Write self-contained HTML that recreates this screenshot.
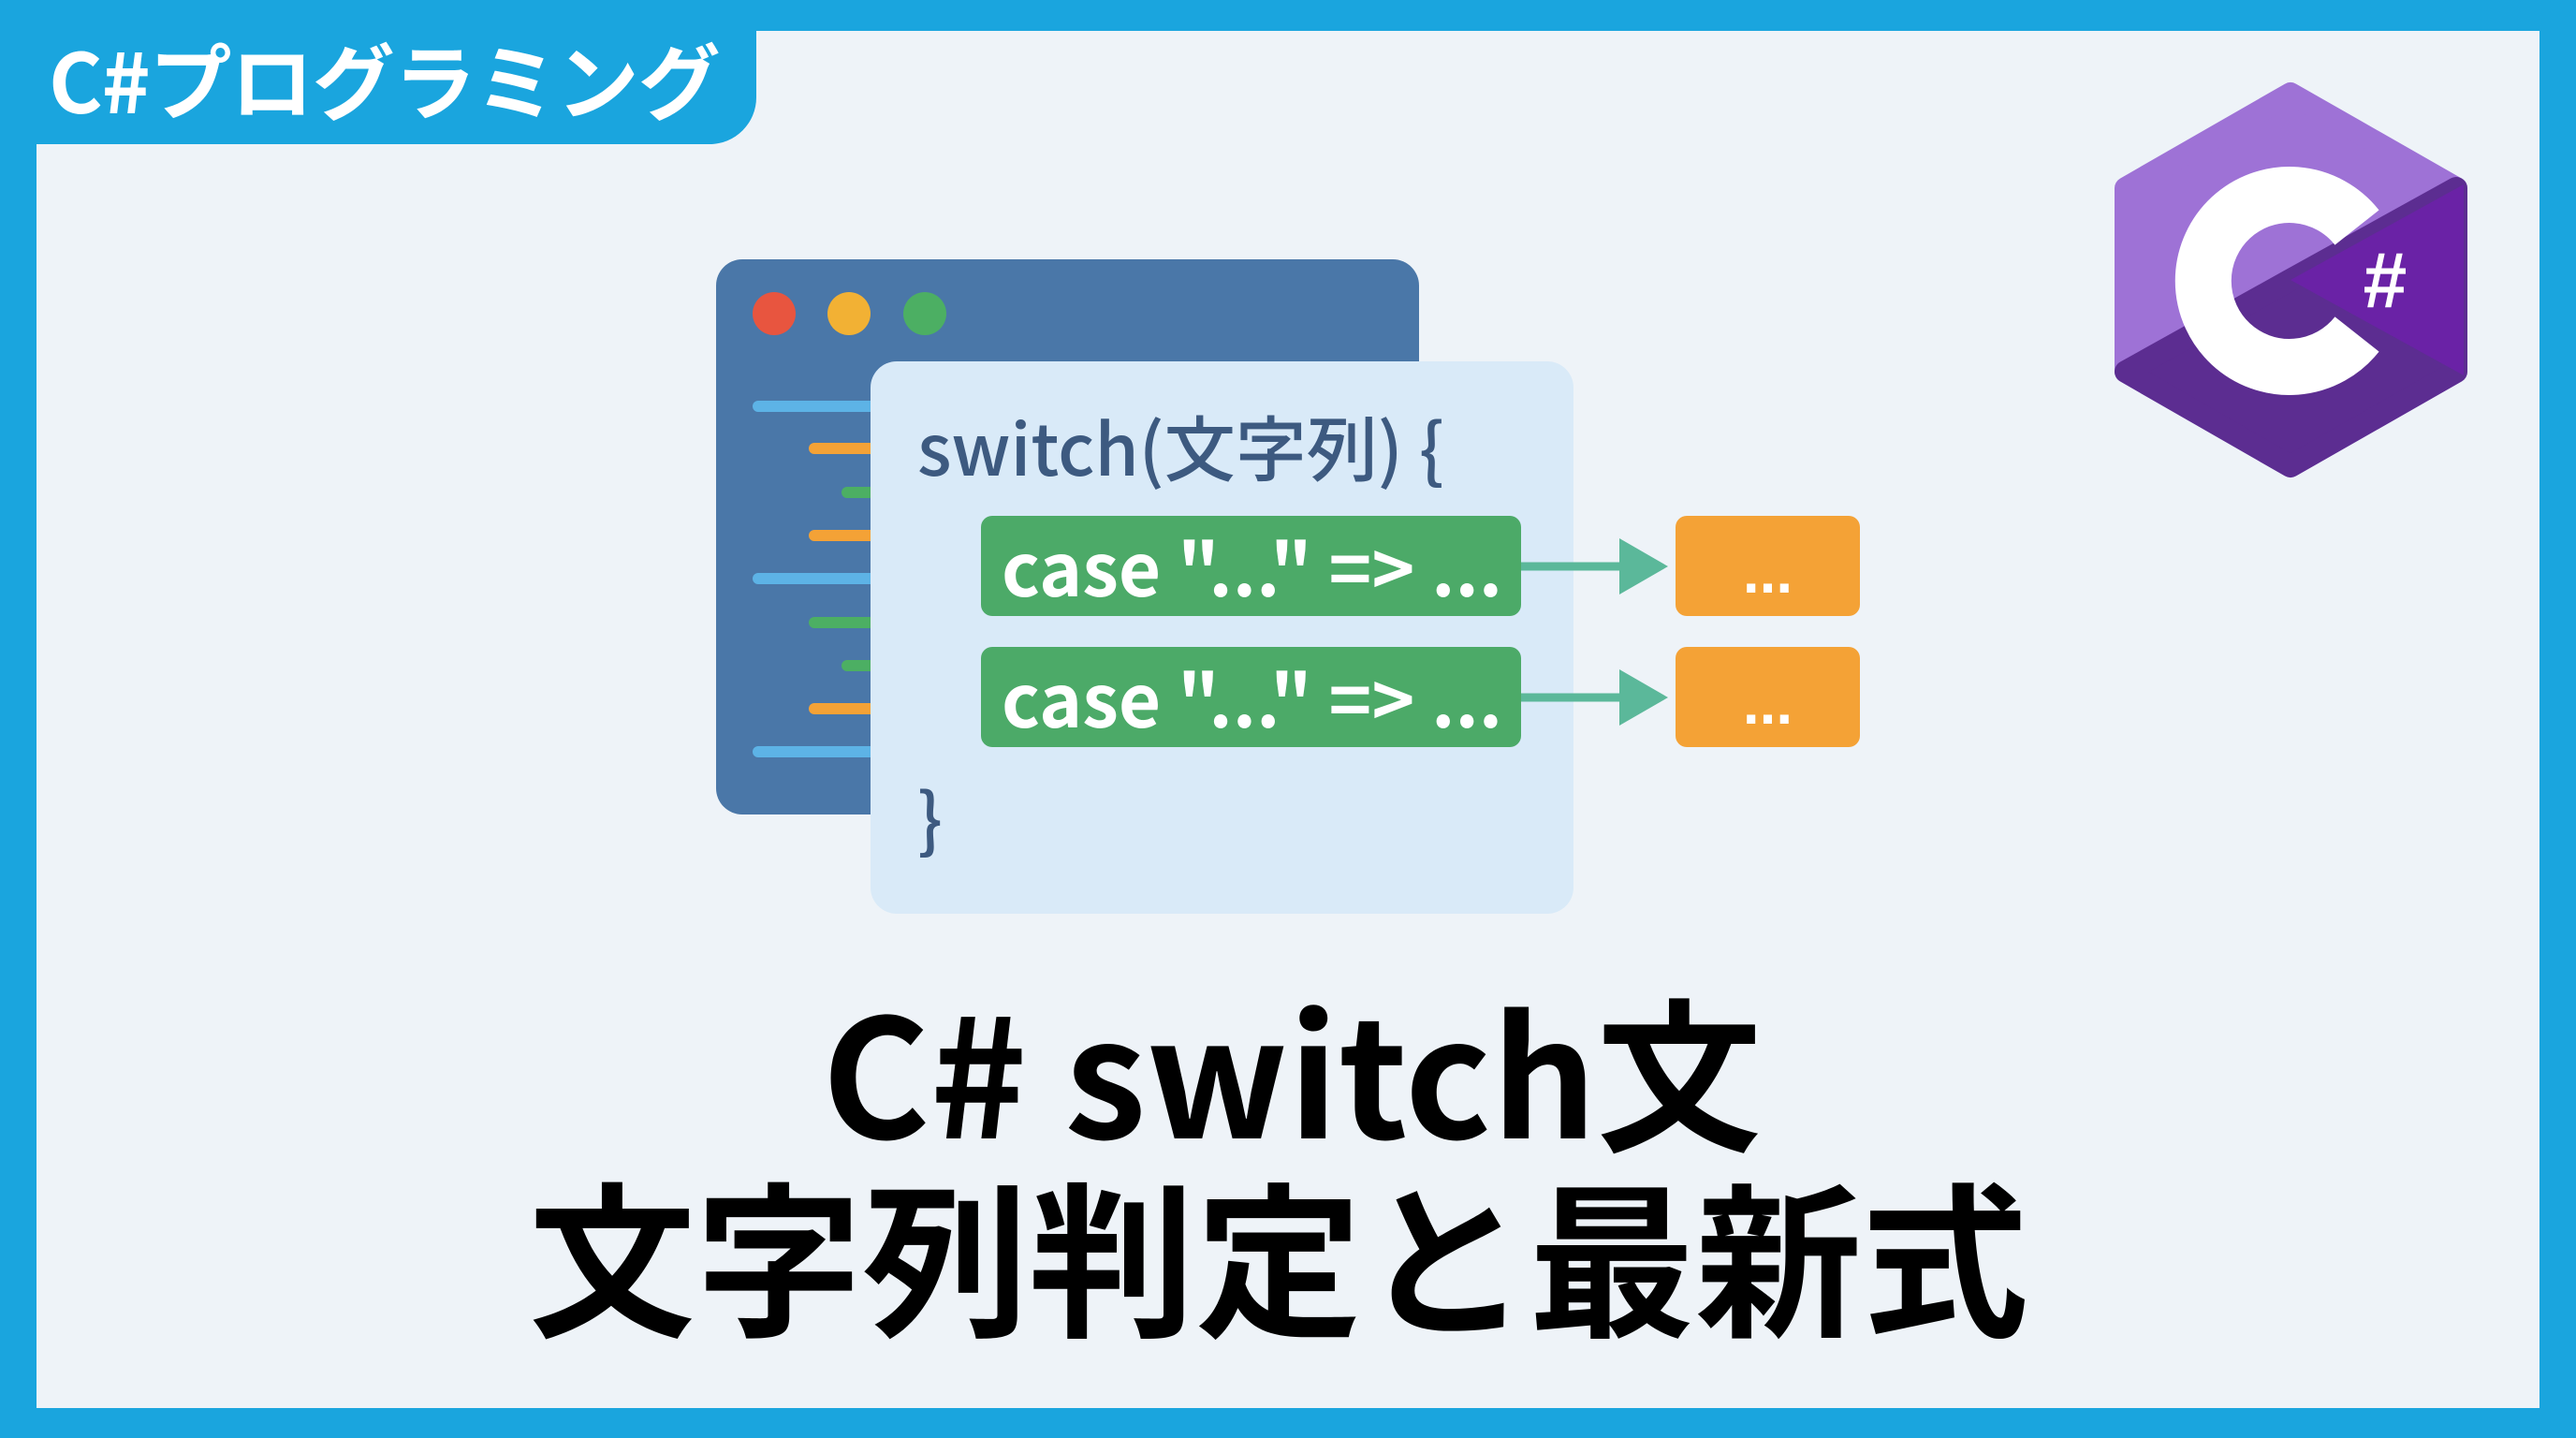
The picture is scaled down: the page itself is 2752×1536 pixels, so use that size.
<!DOCTYPE html>
<html><head><meta charset="utf-8"><style>
html,body{margin:0;padding:0}
body{width:2752px;height:1536px;position:relative;overflow:hidden;background:#1aa5de;font-family:"Liberation Sans","Noto Sans CJK JP",sans-serif}
.inner{position:absolute;left:39px;top:33px;width:2674px;height:1471px;background:#eef3f8}
.tag{position:absolute;left:0;top:0;width:808px;height:154px;background:#1aa5de;border-bottom-right-radius:50px}
.tagt{position:absolute;left:52px;top:20px;font-size:88px;font-weight:bold;color:#fff;white-space:nowrap;letter-spacing:-1px;font-family:"Noto Sans CJK JP",sans-serif}
.win{position:absolute;left:765px;top:277px;width:751px;height:593px;background:#4a77a8;border-radius:28px}
.dot{position:absolute;width:46px;height:46px;border-radius:50%;top:312px}
.ln{position:absolute;height:12px;border-radius:6px}
.panel{position:absolute;left:930px;top:386px;width:751px;height:590px;background:#d9eaf8;border-radius:28px}
.code{position:absolute;color:#3d5a80;font-size:76px;font-weight:500;font-family:"Noto Sans CJK JP",sans-serif;white-space:nowrap}
.g{position:absolute;left:1048px;width:577px;height:107px;background:#4caa68;border-radius:12px;color:#fff;font-size:78px;font-weight:bold;font-family:"Noto Sans CJK JP",sans-serif;line-height:107px;padding-left:22px;box-sizing:border-box;white-space:nowrap}
.o{position:absolute;left:1790px;width:197px;height:107px;background:#f4a236;border-radius:12px;color:#fff;font-size:64px;font-weight:bold;text-align:center;line-height:120px}
.t{position:absolute;left:0;width:2752px;text-align:center;color:#000;font-weight:bold;font-family:"Noto Sans CJK JP",sans-serif;white-space:nowrap}
</style></head><body>
<div class="inner"></div>
<div class="tag"><div class="tagt">C#プログラミング</div></div>

<div class="win"></div>
<div class="dot" style="left:804px;background:#e8553f"></div>
<div class="dot" style="left:884px;background:#f2b134"></div>
<div class="dot" style="left:965px;background:#4caf63"></div>
<div class="ln" style="left:804px;top:428px;width:140px;background:#5db3e6"></div>
<div class="ln" style="left:864px;top:473px;width:80px;background:#f4a236"></div>
<div class="ln" style="left:899px;top:520px;width:45px;background:#4caf63"></div>
<div class="ln" style="left:864px;top:566px;width:80px;background:#f4a236"></div>
<div class="ln" style="left:804px;top:612px;width:140px;background:#5db3e6"></div>
<div class="ln" style="left:864px;top:659px;width:80px;background:#4caf63"></div>
<div class="ln" style="left:899px;top:705px;width:45px;background:#4caf63"></div>
<div class="ln" style="left:864px;top:751px;width:80px;background:#f4a236"></div>
<div class="ln" style="left:804px;top:797px;width:140px;background:#5db3e6"></div>

<div class="panel"></div>
<div class="code" style="left:980px;top:420px">switch(文字列) {</div>
<div class="code" style="left:980px;top:815px">}</div>
<div class="g" style="top:551px">case "..." =&gt; ...</div>
<div class="g" style="top:691px">case "..." =&gt; ...</div>
<div class="o" style="top:551px">...</div>
<div class="o" style="top:691px">...</div>
<svg style="position:absolute;left:0;top:0" width="2752" height="1536">
<g fill="#5bb89a" stroke="#5bb89a">
<line x1="1625" y1="605" x2="1740" y2="605" stroke-width="9"/>
<polygon points="1730,575 1782,605 1730,635" stroke="none"/>
<line x1="1625" y1="745" x2="1740" y2="745" stroke-width="9"/>
<polygon points="1730,715 1782,745 1730,775" stroke="none"/>
</g>
<polygon points="2447,100 2624,201 2624,397 2447,498 2271,397 2271,201" fill="#9e72d6" stroke="#9e72d6" stroke-width="24" stroke-linejoin="round"/>
<polygon points="2447,299 2624,201 2624,397 2447,498 2271,397" fill="#5c2d91" stroke="#5c2d91" stroke-width="24" stroke-linejoin="round"/>
<polygon points="2447,299 2632,197 2632,401" fill="#6a22a6"/>
<path d="M2518,243 A92,92 0 1 0 2518,357" fill="none" stroke="#fff" stroke-width="60"/>
<text x="2548" y="328" font-size="84" font-weight="bold" fill="#fff" text-anchor="middle" font-family="Liberation Sans,sans-serif">#</text>
</svg>
<div class="t" style="top:1040px;font-size:176px;line-height:200px;left:4px">C# switch文</div>
<div class="t" style="top:1238px;font-size:178px;line-height:200px;left:-10px">文字列判定と最新式</div>
</body></html>
